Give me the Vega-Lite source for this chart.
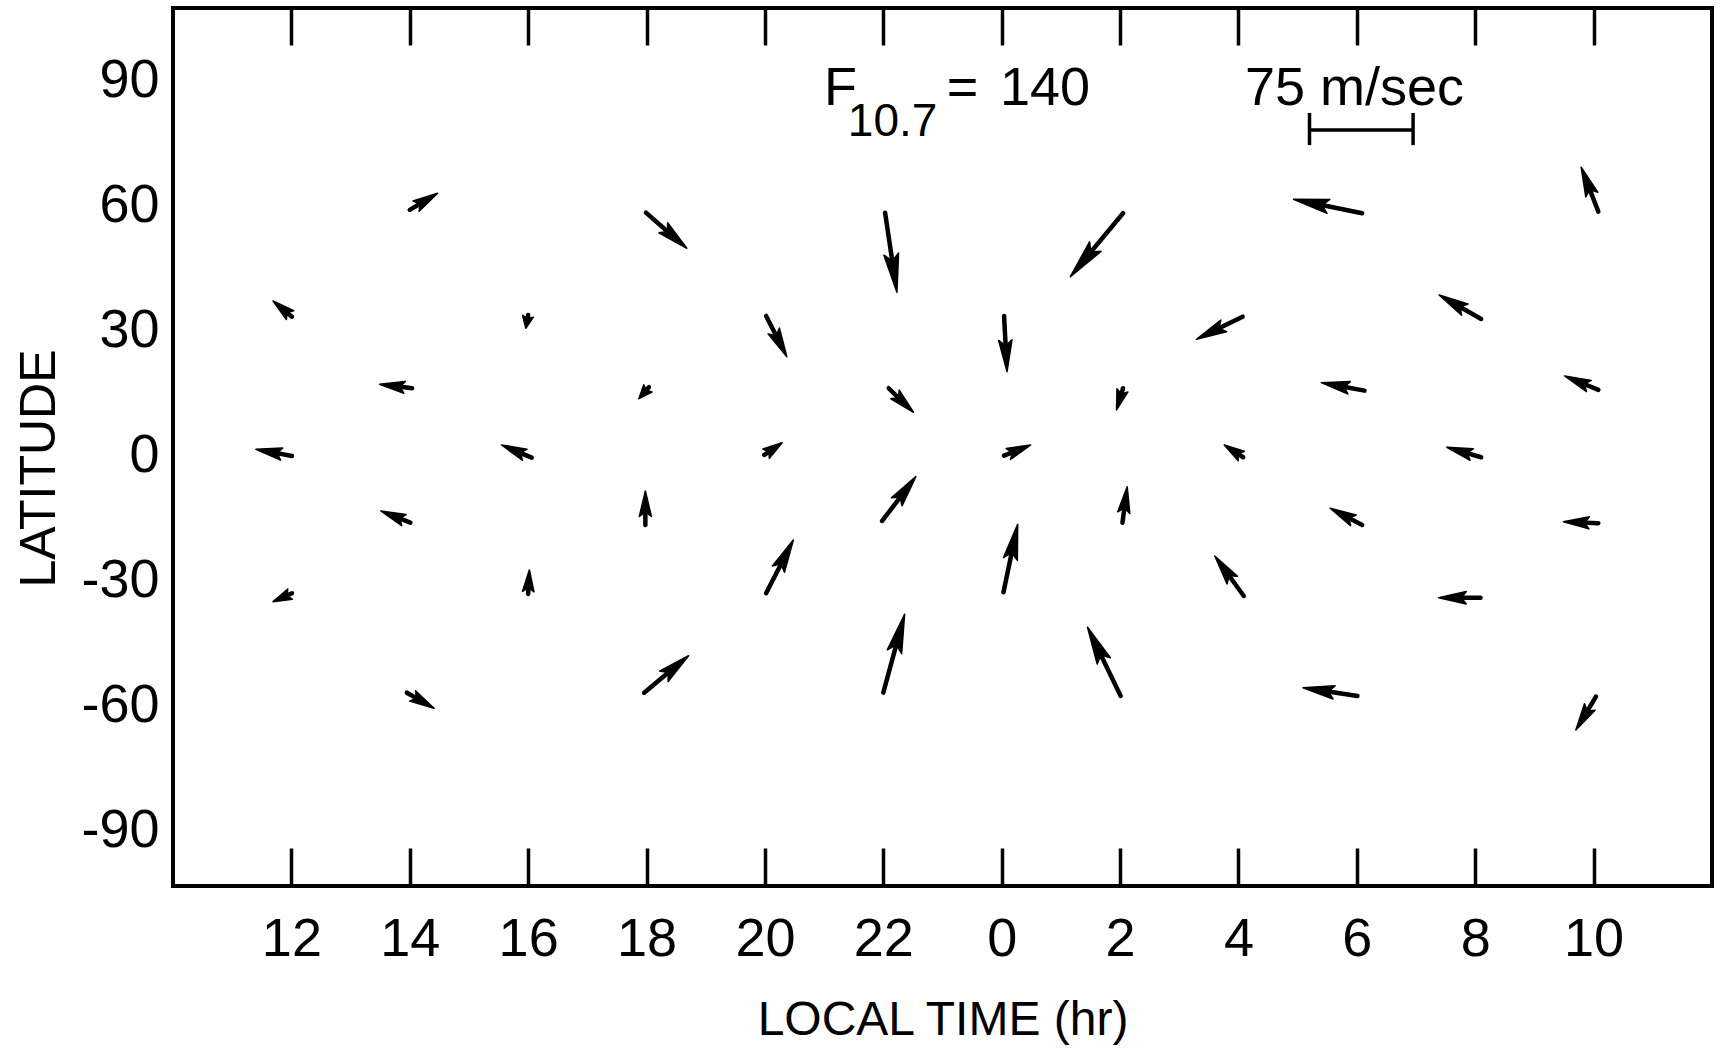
{
  "$schema": "https://vega.github.io/schema/vega-lite/v6.json",
  "width": 1539,
  "height": 878,
  "autosize": "none",
  "padding": {"left": 173, "top": 8, "right": 16, "bottom": 167},
  "background": "white",
  "config": {
    "view": {"stroke": "black", "strokeWidth": 4},
    "font": "Liberation Sans"
  },
  "datasets": {
    "arrows": [
      {"lt0": 14.00, "lat0": 59.04, "lt1": 14.47, "lat1": 63.05},
      {"lt0": 17.99, "lat0": 58.39, "lt1": 18.68, "lat1": 49.85},
      {"lt0": 12.01, "lat0": 33.43, "lt1": 11.69, "lat1": 37.20},
      {"lt0": 16.00, "lat0": 33.84, "lt1": 15.96, "lat1": 30.65},
      {"lt0": 14.04, "lat0": 16.25, "lt1": 13.49, "lat1": 17.21},
      {"lt0": 18.04, "lat0": 16.49, "lt1": 17.87, "lat1": 13.75},
      {"lt0": 12.01, "lat0": 0.00, "lt1": 11.40, "lat1": 1.61},
      {"lt0": 16.06, "lat0": -0.41, "lt1": 15.55, "lat1": 2.64},
      {"lt0": 22.03, "lat0": 58.39, "lt1": 22.23, "lat1": 39.29},
      {"lt0": 26.05, "lat0": 58.25, "lt1": 25.16, "lat1": 43.03},
      {"lt0": 20.02, "lat0": 33.60, "lt1": 20.37, "lat1": 23.83},
      {"lt0": 24.04, "lat0": 33.60, "lt1": 24.09, "lat1": 20.23},
      {"lt0": 22.09, "lat0": 16.25, "lt1": 22.51, "lat1": 10.49},
      {"lt0": 26.05, "lat0": 16.25, "lt1": 25.94, "lat1": 11.04},
      {"lt0": 19.99, "lat0": 0.24, "lt1": 20.29, "lat1": 3.19},
      {"lt0": 24.04, "lat0": 0.07, "lt1": 24.49, "lat1": 2.64},
      {"lt0": 30.09, "lat0": 58.25, "lt1": 28.93, "lat1": 61.61},
      {"lt0": 34.08, "lat0": 58.63, "lt1": 33.79, "lat1": 69.29},
      {"lt0": 28.07, "lat0": 33.43, "lt1": 27.29, "lat1": 28.01},
      {"lt0": 32.10, "lat0": 32.88, "lt1": 31.39, "lat1": 38.64},
      {"lt0": 30.13, "lat0": 15.67, "lt1": 29.40, "lat1": 17.59},
      {"lt0": 34.08, "lat0": 15.84, "lt1": 33.51, "lat1": 19.20},
      {"lt0": 28.08, "lat0": -0.31, "lt1": 27.76, "lat1": 2.64},
      {"lt0": 32.10, "lat0": -0.31, "lt1": 31.52, "lat1": 2.09},
      {"lt0": 14.01, "lat0": -16.01, "lt1": 13.51, "lat1": -13.20},
      {"lt0": 17.98, "lat0": -16.56, "lt1": 17.98, "lat1": -8.40},
      {"lt0": 12.01, "lat0": -32.95, "lt1": 11.69, "lat1": -34.97},
      {"lt0": 16.00, "lat0": -33.12, "lt1": 16.02, "lat1": -27.36},
      {"lt0": 13.95, "lat0": -56.81, "lt1": 14.41, "lat1": -60.55},
      {"lt0": 17.96, "lat0": -56.81, "lt1": 18.71, "lat1": -47.93},
      {"lt0": 21.98, "lat0": -15.60, "lt1": 22.55, "lat1": -4.97},
      {"lt0": 20.02, "lat0": -32.95, "lt1": 20.48, "lat1": -20.16},
      {"lt0": 24.03, "lat0": -32.71, "lt1": 24.27, "lat1": -16.39},
      {"lt0": 26.04, "lat0": -16.01, "lt1": 26.12, "lat1": -7.37},
      {"lt0": 22.00, "lat0": -56.81, "lt1": 22.36, "lat1": -37.99},
      {"lt0": 26.01, "lat0": -57.60, "lt1": 25.45, "lat1": -41.11},
      {"lt0": 30.09, "lat0": -16.56, "lt1": 29.55, "lat1": -12.55},
      {"lt0": 34.08, "lat0": -16.15, "lt1": 33.49, "lat1": -15.77},
      {"lt0": 28.09, "lat0": -33.60, "lt1": 27.60, "lat1": -24.00},
      {"lt0": 32.09, "lat0": -34.01, "lt1": 31.38, "lat1": -34.01},
      {"lt0": 30.01, "lat0": -57.60, "lt1": 29.09, "lat1": -55.61},
      {"lt0": 34.04, "lat0": -57.77, "lt1": 33.70, "lat1": -65.76}
    ],
    "notes": [
      {"txt": "F", "x": 21.0, "y": 84.24},
      {"txt": "=", "x": 23.07, "y": 84.24},
      {"txt": "140", "x": 23.97, "y": 84.24},
      {"txt": "75 m/sec", "x": 28.11, "y": 84.24}
    ],
    "sub": [
      {"txt": "10.7", "x": 21.40, "y": 76.8}
    ],
    "bar": [
      {"x1": 29.2, "y1": 78.24, "x2": 30.95, "y2": 78.24},
      {"x1": 29.2, "y1": 74.6, "x2": 29.2, "y2": 82.3},
      {"x1": 30.95, "y1": 74.6, "x2": 30.95, "y2": 82.3}
    ]
  },
  "layer": [
    {
      "data": {"name": "arrows"},
      "transform": [
        {"calculate": "(datum.lt1 - datum.lt0) * 59.19", "as": "dx"},
        {"calculate": "(datum.lat1 - datum.lat0) * 4.167", "as": "dy"},
        {"calculate": "sqrt(datum.dx * datum.dx + datum.dy * datum.dy)", "as": "L"},
        {"calculate": "min(0.9 * datum.L, 16 + 0.28 * datum.L)", "as": "H"},
        {"calculate": "max(0, 1 - 0.6 * datum.H / datum.L)", "as": "f"},
        {"calculate": "datum.lt0 + (datum.lt1 - datum.lt0) * datum.f", "as": "ex"},
        {"calculate": "datum.lat0 + (datum.lat1 - datum.lat0) * datum.f", "as": "ey"}
      ],
      "mark": {"type": "rule", "strokeWidth": 4.5, "strokeCap": "round", "color": "black"},
      "encoding": {
        "x": {
          "field": "lt0", "type": "quantitative",
          "scale": {"domain": [10, 36], "nice": false, "zero": false},
          "axis": {
            "orient": "bottom",
            "values": [12, 14, 16, 18, 20, 22, 24, 26, 28, 30, 32, 34],
            "labelExpr": "datum.value % 24",
            "tickSize": -38, "tickWidth": 3.5, "tickColor": "black",
            "domain": false, "grid": false,
            "labelFontSize": 54, "labelColor": "black", "labelPadding": 64,
            "labelFlush": false, "labelOverlap": false,
            "title": "LOCAL TIME (hr)", "titleFontSize": 48, "titleFontWeight": "normal",
            "titleColor": "black", "titlePadding": 30
          }
        },
        "y": {
          "field": "lat0", "type": "quantitative",
          "scale": {"domain": [-103.2, 107.5], "nice": false, "zero": false},
          "axis": {
            "values": [-90, -60, -30, 0, 30, 60, 90],
            "labelExpr": "'' + datum.value",
            "ticks": false, "domain": false, "grid": false,
            "labelFontSize": 54, "labelColor": "black", "labelPadding": 14,
            "labelFlush": false, "labelOverlap": false,
            "title": "LATITUDE", "titleFontSize": 50, "titleFontWeight": "normal",
            "titleColor": "black", "titlePadding": 16, "titleY": 460
          }
        },
        "x2": {"field": "ex"},
        "y2": {"field": "ey"}
      }
    },
    {
      "data": {"name": "arrows"},
      "transform": [
        {"calculate": "(datum.lt1 - datum.lt0) * 59.19", "as": "dx"},
        {"calculate": "(datum.lat1 - datum.lat0) * 4.167", "as": "dy"},
        {"calculate": "sqrt(datum.dx * datum.dx + datum.dy * datum.dy)", "as": "L"},
        {"calculate": "min(0.9 * datum.L, 16 + 0.28 * datum.L)", "as": "H"},
        {"calculate": "(10 + 0.06 * datum.L) / 2", "as": "w"},
        {"calculate": "atan2(datum.dx, datum.dy) * 180 / PI", "as": "ang"},
        {"calculate": "'M0,0L' + datum.w + ',' + datum.H + 'L0,' + (0.82 * datum.H) + 'L' + (-datum.w) + ',' + datum.H + 'Z'", "as": "hp"}
      ],
      "mark": {"type": "point", "filled": true, "opacity": 1, "color": "black", "size": 4, "stroke": "black", "strokeWidth": 1.5, "strokeJoin": "round"},
      "encoding": {
        "x": {"field": "lt1", "type": "quantitative", "axis": null},
        "y": {"field": "lat1", "type": "quantitative", "axis": null},
        "shape": {"field": "hp", "type": "nominal", "scale": null},
        "angle": {"field": "ang", "type": "quantitative", "scale": null}
      }
    },
    {
      "data": {"name": "notes"},
      "mark": {"type": "text", "align": "left", "baseline": "alphabetic", "fontSize": 54, "color": "black"},
      "encoding": {
        "x": {"field": "x", "type": "quantitative", "axis": null},
        "y": {"field": "y", "type": "quantitative", "axis": null},
        "text": {"field": "txt"}
      }
    },
    {
      "data": {"name": "sub"},
      "mark": {"type": "text", "align": "left", "baseline": "alphabetic", "fontSize": 46, "color": "black"},
      "encoding": {
        "x": {"field": "x", "type": "quantitative", "axis": null},
        "y": {"field": "y", "type": "quantitative", "axis": null},
        "text": {"field": "txt"}
      }
    },
    {
      "data": {"name": "bar"},
      "mark": {"type": "rule", "strokeWidth": 3.5, "color": "black"},
      "encoding": {
        "x": {
          "field": "x1", "type": "quantitative",
          "axis": {
            "orient": "top",
            "values": [12, 14, 16, 18, 20, 22, 24, 26, 28, 30, 32, 34],
            "labels": false, "tickSize": -37, "tickWidth": 3.5, "tickColor": "black",
            "domain": false, "grid": false, "title": null
          }
        },
        "y": {"field": "y1", "type": "quantitative", "axis": null},
        "x2": {"field": "x2"},
        "y2": {"field": "y2"}
      }
    }
  ],
  "resolve": {"axis": {"x": "independent", "y": "independent"}}
}
